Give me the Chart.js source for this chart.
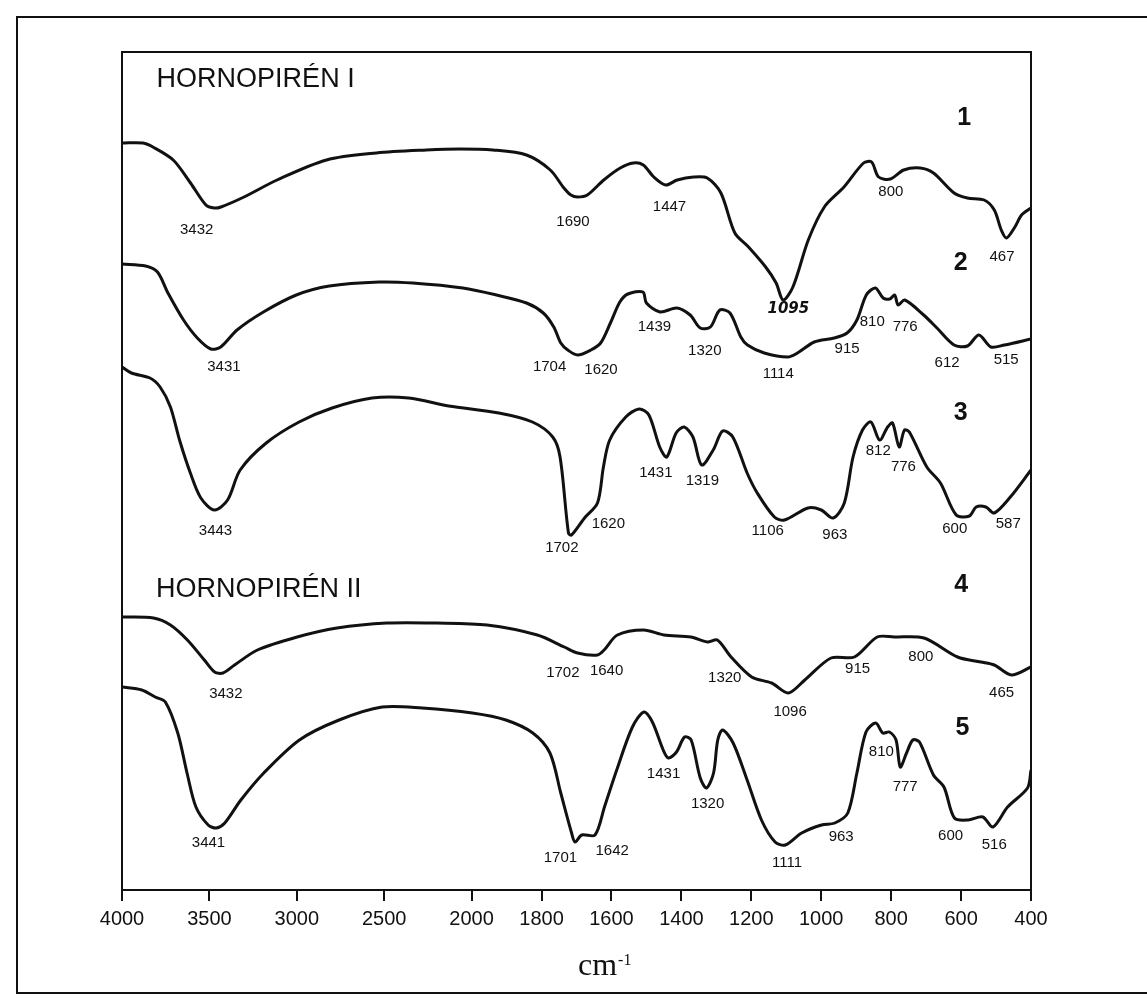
<!DOCTYPE html>
<html>
<head>
<meta charset="utf-8">
<title>Espectros IR - Hornopirén</title>
<script src="https://cdn.jsdelivr.net/npm/chart.js@4.4.1/dist/chart.umd.min.js"></script>
<style>
  html, body { margin: 0; padding: 0; background: #fff; }
  canvas { display: block; }
</style>
</head>
<body>
<canvas id="irChart" width="1147" height="1008"></canvas>
<script>
// x axis: wavenumber (cm-1), scale doubles below 2000
const tickValues = [4000, 3500, 3000, 2500, 2000, 1800, 1600, 1400, 1200, 1000, 800, 600, 400];

// spectra as [wavenumber, transmittance (arbitrary units, offset per trace)]
const spectrum1 = [
  [4000,747],[3880,747],[3823,743],[3707,730],[3608,707],[3520,685],[3472,682],[3434,683],[3302,693],[3113,710],
  [2830,730],[2545,737],[2259,740],[2068,741],[1939,740],[1843,735],[1775,720],[1736,702],[1716,695],[1697,693],
  [1669,695],[1622,710],[1575,722],[1537,727],[1509,725],[1479,713],[1445,705],[1412,710],[1365,713],[1326,712],
  [1287,697],[1247,657],[1208,643],[1159,623],[1129,607],[1109,590],[1081,603],[1037,650],[991,683],[935,703],
  [879,727],[856,728],[836,713],[802,711],[764,720],[717,722],[679,717],[620,697],[582,692],[534,690],
  [505,680],[485,660],[470,652],[446,663],[427,675],[400,682]
];
const spectrum2 = [
  [4000,626],[3865,624],[3797,618],[3737,597],[3648,570],[3569,552],[3492,541],[3435,543],[3342,560],[3191,578],
  [3003,595],[2814,604],[2528,608],[2337,607],[2050,602],[1929,595],[1843,587],[1795,577],[1765,563],[1745,547],
  [1725,540],[1697,535],[1659,540],[1631,547],[1603,567],[1576,588],[1553,596],[1510,598],[1500,587],[1461,578],
  [1413,582],[1375,575],[1346,562],[1317,563],[1290,580],[1261,577],[1230,553],[1211,545],[1163,537],[1096,533],
  [1068,537],[1020,548],[963,552],[926,557],[898,570],[871,595],[845,602],[823,592],[804,591],[790,595],
  [780,585],[761,590],[707,575],[669,562],[620,545],[582,544],[549,555],[515,543],[476,545],[400,551]
];
const spectrum3 = [
  [4000,523],[3946,517],[3840,512],[3782,503],[3723,483],[3671,450],[3609,417],[3549,392],[3471,380],[3396,390],
  [3324,420],[3175,447],[2987,468],[2798,482],[2570,492],[2360,492],[2131,484],[1922,477],[1826,468],[1768,453],
  [1747,433],[1723,357],[1714,355],[1677,372],[1640,387],[1623,423],[1605,450],[1559,473],[1521,481],[1493,475],
  [1462,443],[1442,433],[1415,457],[1392,463],[1367,453],[1342,425],[1309,440],[1282,459],[1253,453],[1212,417],
  [1183,397],[1134,373],[1105,370],[1038,382],[1000,380],[966,372],[934,387],[909,433],[882,460],[858,468],
  [833,450],[810,463],[796,467],[777,443],[762,460],[748,458],[698,423],[659,407],[614,375],[576,374],
  [557,383],[529,383],[505,377],[459,393],[400,420]
];
const spectrum4 = [
  [4000,273],[3820,272],[3723,265],[3626,250],[3529,230],[3470,218],[3422,217],[3356,225],[3225,240],[2998,253],
  [2770,262],[2485,267],[2199,267],[1956,265],[1812,255],[1735,243],[1697,237],[1640,235],[1621,240],[1583,255],
  [1508,260],[1450,255],[1373,253],[1326,248],[1297,250],[1258,233],[1199,213],[1142,207],[1094,197],[1047,210],
  [972,232],[905,233],[840,253],[792,253],[706,252],[610,233],[543,228],[505,225],[456,215],[400,223]
];
const spectrum5 = [
  [4000,203],[3887,200],[3810,193],[3752,188],[3681,157],[3628,117],[3577,83],[3507,65],[3460,62],[3412,67],
  [3320,90],[3189,117],[2985,150],[2758,170],[2512,183],[2283,182],[1998,177],[1902,170],[1825,157],[1776,137],
  [1745,97],[1714,57],[1704,48],[1685,55],[1647,55],[1620,83],[1585,120],[1540,163],[1507,178],[1483,168],
  [1452,140],[1437,132],[1414,138],[1391,153],[1372,150],[1346,112],[1328,102],[1308,117],[1296,150],[1282,160],
  [1252,147],[1212,110],[1171,70],[1132,48],[1103,45],[1056,57],[999,65],[961,67],[924,77],[898,117],
  [872,158],[844,167],[824,157],[805,158],[786,150],[774,123],[756,137],[738,150],[719,148],[679,115],
  [649,103],[619,72],[580,70],[538,73],[509,63],[467,83],[410,102],[400,120]
];

// peak labels: [text, wavenumber, value]
const peaks1 = [['3432',3573,660],['1690',1710,668],['1447',1434,683],['800',801,698],['467',483,633]];
const handNote = [['1095',1094,581]];
const peaks2 = [['3431',3417,523],['1704',1777,523],['1620',1630,520],['1439',1477,563],['1320',1333,539],['1114',1123,516],
  ['915',926,541],['810',854,568],['776',760,563],['612',640,527],['515',471,530]];
const peaks3 = [['3443',3465,359],['1702',1742,342],['1620',1609,366],['1431',1473,417],['1319',1340,409],['1106',1153,359],
  ['963',961,355],['812',837,439],['776',765,423],['600',618,361],['587',465,366]];
const peaks4 = [['3432',3406,196],['1702',1739,217],['1640',1614,219],['1320',1276,212],['1096',1089,178],['915',896,221],
  ['800',715,233],['465',484,197]];
const peaks5 = [['3441',3505,47],['1701',1746,32],['1642',1598,39],['1431',1451,116],['1320',1325,86],['1111',1098,27],
  ['963',943,53],['810',828,138],['777',760,103],['600',630,54],['516',505,45]];
const traceNumbers = [['1',591,772],['2',601,627],['3',601,477],['4',600,305],['5',596,162]];
const groupTitles = [['HORNOPIRÉN I',3802,810],['HORNOPIRÉN II',3806,300]];

const spectra = [spectrum1, spectrum2, spectrum3, spectrum4, spectrum5];

// wavenumber scale, 2x expanded below 2000 cm-1
class IrScale extends Chart.LinearScale {
    buildTicks() {
        return tickValues.map(v => ({ value: v }));
    }
    getPixelForValue(value) {
        const pos = value >= 2000 ? 4000 - value : 2000 + (2000 - value) * 2;
        return this.left + (pos / 5200) * this.width;
    }
    getValueForPixel(pixel) {
        const pos = (pixel - this.left) / this.width * 5200;
        return pos <= 2000 ? 4000 - pos : 2000 - (pos - 2000) / 2;
    }
}
IrScale.id = 'ir';
IrScale.defaults = {};
Chart.register(IrScale);

const SANS = '"Liberation Sans", Arial, Helvetica, sans-serif';

const decorPlugin = {
    id: 'decor',
    beforeDraw(chart) {
        const ctx = chart.ctx;
        ctx.save();
        ctx.fillStyle = '#fff';
        ctx.fillRect(0, 0, chart.width, chart.height);
        ctx.restore();
    },
    afterDraw(chart) {
        const { ctx, chartArea: a } = chart;
        const xs = chart.scales.x, ys = chart.scales.y;
        const put = (list) => list.forEach(([t, w, v]) => ctx.fillText(t, xs.getPixelForValue(w), ys.getPixelForValue(v)));
        ctx.save();
        ctx.strokeStyle = '#111';

        // outer frame
        ctx.lineWidth = 2;
        ctx.beginPath();
        ctx.moveTo(1147, 17); ctx.lineTo(17, 17); ctx.lineTo(17, 993); ctx.lineTo(1147, 993);
        ctx.stroke();

        // plot box
        ctx.lineWidth = 2;
        ctx.strokeRect(a.left, a.top, a.right - a.left, a.bottom - a.top);

        ctx.fillStyle = '#111';
        ctx.textBaseline = 'middle';
        ctx.textAlign = 'center';
        ctx.font = '15px ' + SANS;
        [peaks1, peaks2, peaks3, peaks4, peaks5].forEach(put);

        ctx.font = 'italic 600 15px "DejaVu Sans", sans-serif';
        put(handNote);

        ctx.font = 'bold 25px ' + SANS;
        put(traceNumbers);

        ctx.textAlign = 'left';
        ctx.font = '27px ' + SANS;
        put(groupTitles);

        // axis title cm-1
        ctx.textBaseline = 'alphabetic';
        ctx.font = '32px "Liberation Serif", "Times New Roman", serif';
        ctx.fillText('cm', 578, 975);
        const w = ctx.measureText('cm').width;
        ctx.font = '16px "Liberation Serif", "Times New Roman", serif';
        ctx.fillText('-1', 578 + w + 1, 965);
        ctx.restore();
    }
};

document.addEventListener("DOMContentLoaded", () => {
    const ctx = document.getElementById('irChart').getContext('2d');

    new Chart(ctx, {
        type: 'line',
        data: {
            datasets: spectra.map((s, i) => ({
                label: String(i + 1),
                data: s.map(([x, y]) => ({ x, y })),
                borderColor: '#111',
                borderWidth: 3,
                pointRadius: 0,
                tension: 0.3,
                fill: false
            }))
        },
        options: {
            responsive: false,
            animation: false,
            devicePixelRatio: 1,
            layout: { padding: { left: 122, right: 116, top: 52, bottom: 0 } },
            plugins: { legend: { display: false }, tooltip: { enabled: false } },
            scales: {
                x: {
                    type: 'ir',
                    min: 400,
                    max: 4000,
                    afterFit: (scale) => { scale.height = 118; },
                    border: { display: true, color: '#111', width: 2 },
                    grid: { display: true, drawOnChartArea: false, drawTicks: true, tickLength: 11, color: '#111', lineWidth: 2 },
                    ticks: {
                        autoSkip: false,
                        maxRotation: 0,
                        padding: 6,
                        color: '#111',
                        font: { family: SANS, size: 20 },
                        callback: (v) => String(v)
                    }
                },
                y: { type: 'linear', min: 0, max: 838, display: false }
            }
        },
        plugins: [decorPlugin]
    });
});
</script>
</body>
</html>
